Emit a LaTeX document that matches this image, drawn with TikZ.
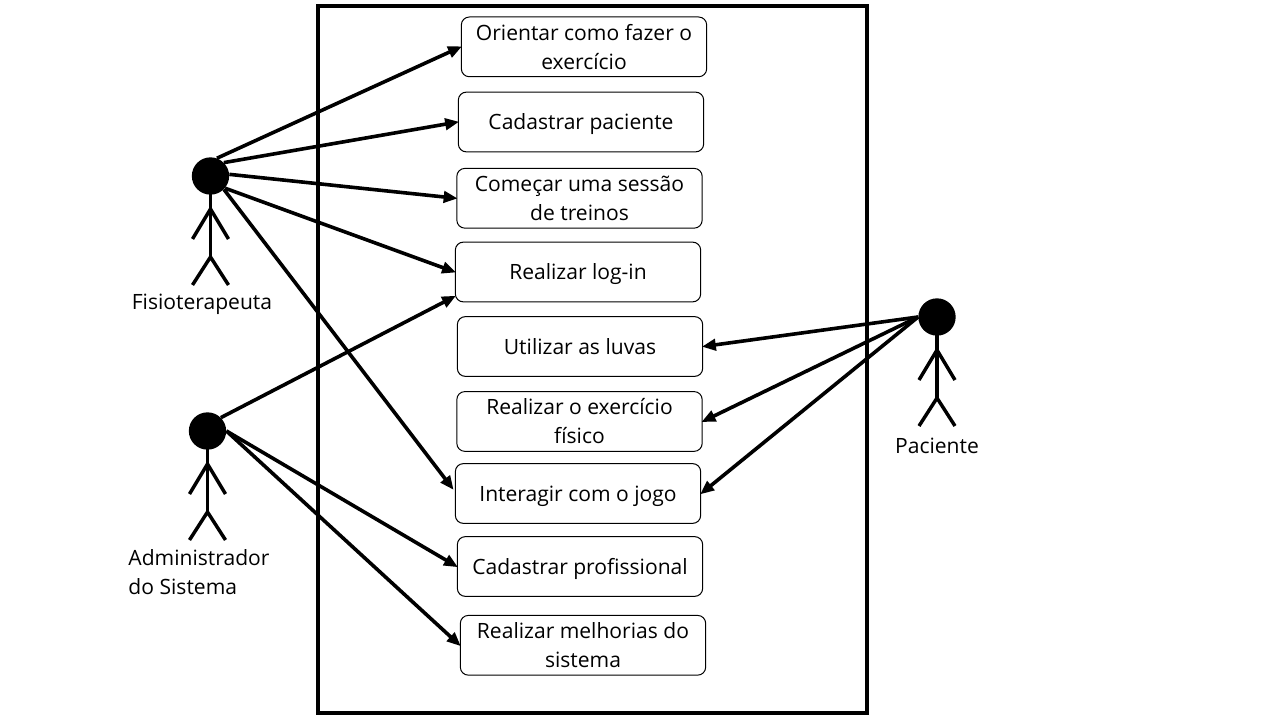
\documentclass[tikz,border=0pt]{standalone}
\usepackage{fontspec}
\setmainfont{Open Sans}
\usetikzlibrary{arrows.meta}
\tikzset{
>={Triangle[length=10.5pt,width=8.5pt]},
  usecase/.style={
    rectangle,
    rounded corners=6pt,
    draw=black, line width=0.75pt,
    minimum width=184pt,
    minimum height=44.8pt,
    align=center,
    font=\fontsize{15.8}{21.75}\selectfont,
    inner sep=0pt},
  oneline/.style={text height=16pt, text depth=4.6pt},
  twoline/.style={yshift=-0.2pt},
  head/.style={circle, fill=black, minimum size=28pt, inner sep=0pt},
  limb/.style={line width=2.6pt},
  link/.style={draw, line width=2.7pt, ->, shorten >=-1pt},
  actorname/.style={align=left, font=\fontsize{15.8}{21.75}\selectfont, inner sep=0pt},
}
\begin{document}
\begin{tikzpicture}[x=0.75pt,y=-0.75pt]
\useasboundingbox (0,0) rectangle (1280,720);
\draw[line width=3pt] (318,6) rectangle (867,713);
\foreach \name/\x/\y/\kind/\txt in {box1/584/46.6/twoline/Orientar como fazer o \\ exercício,
    box2/581/122/oneline/Cadastrar paciente,
    box3/579.5/198/twoline/Começar uma sessão \\ de treinos,
    box4/578/272/oneline/Realizar log-in,
    box5/580/346.5/oneline/Utilizar as luvas,
    box6/579.5/421.2/twoline/Realizar o exercício \\ físico,
    box7/578/493.5/oneline/Interagir com o jogo,
    box8/580/566.5/oneline/Cadastrar profissional,
    box9/583/645/twoline/Realizar melhorias do \\ sistema}{
    \node[usecase,\kind] (\name) at (\x,\y) {\txt};
}
% actors
\foreach \name/\x/\y in {fisio/210.5/176,admin/207.5/431,pac/937/317}{
    \node[head] (\name) at (\x,\y) {};
    \draw[limb] (\name.center) -- ++(0,81) coordinate (\name hip);
    \draw[limb] (\x-18,\y+63) -- (\x,\y+33) -- (\x+18,\y+63);
    \draw[limb] (\x-18,\y+109) -- (\name hip) -- (\x+18,\y+109);
}
\node[actorname] (fisiolabel) at (202,304.5) {Fisioterapeuta};
\node[actorname] (paclabel) at (937,446) {Paciente};
\node[actorname] (adminlabel) at (199,572.5) {Administrador \\ do Sistema};
% connectors
\coordinate[yshift=4.5pt] (box4low) at (box4.south west);
\coordinate[yshift=3.5pt,xshift=-1.5pt] (box7high) at (box7.west);
\foreach \a/\b in {fisio.70/box1.west,fisio.45/box2.west,fisio.5/box3.west,fisio.-40/box4.west,
    fisio.-45/box7high,admin.45/box4low,admin.east/box8.west,admin.east/box9.west}{
    \path[link] (\a) -- (\b);
}
\foreach \b in {box5,box6,box7}{
    \path[link] (pac.west) -- (\b.east);
}
\end{tikzpicture}
\end{document}
